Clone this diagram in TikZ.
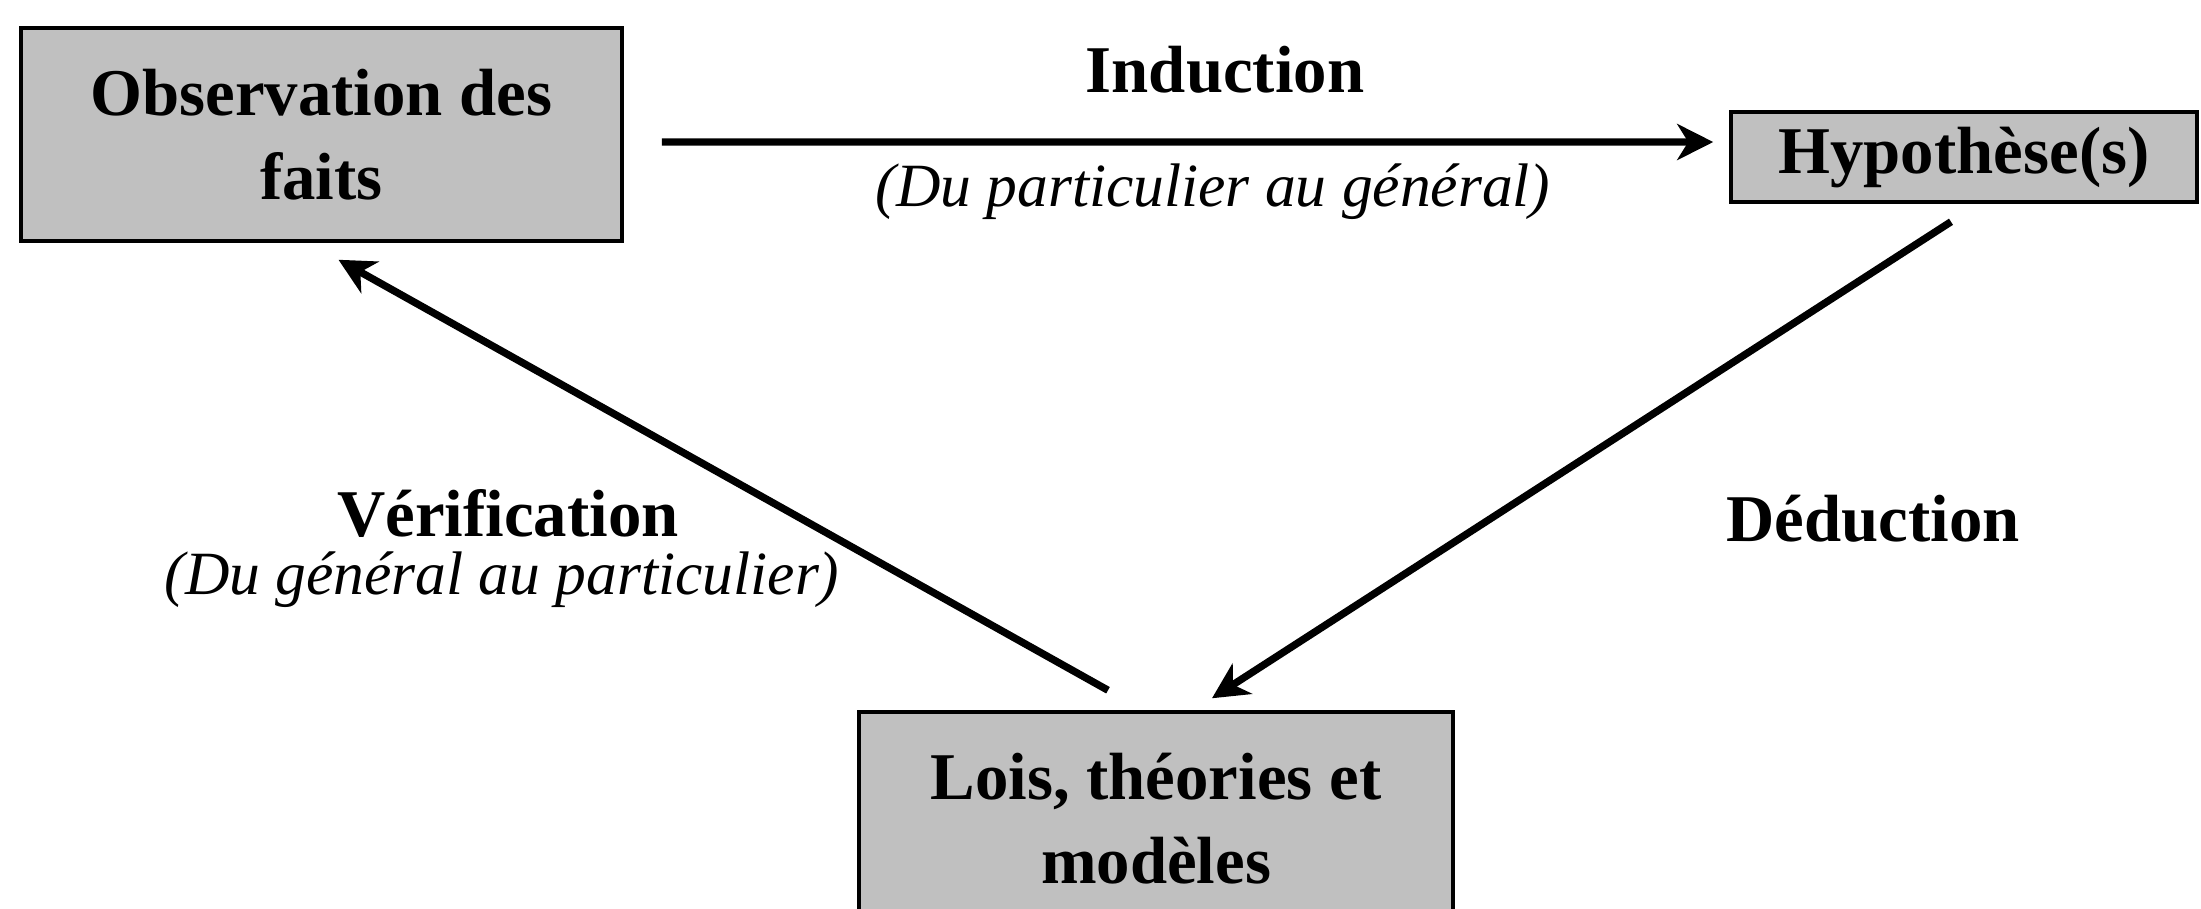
\documentclass[tikz,border=0pt]{standalone}
\usepackage{fontspec}
\setmainfont{Liberation Serif}
\usetikzlibrary{arrows.meta}
\definecolor{boxgray}{RGB}{192,192,192}

\begin{document}
\begin{tikzpicture}
  [x=1cm,y=1cm,every node/.style={align=center,inner sep=0pt}]
 \tikzset{BoxStyle/.style={rectangle,draw=black,line width=1pt,fill=boxgray,font=\fontsize{19}{24}\selectfont\bfseries}}
 \tikzset{TitleStyle/.style={font=\fontsize{19}{24}\selectfont\bfseries}}
 \tikzset{NoteStyle/.style={font=\fontsize{17.5}{21}\selectfont\itshape}}
 \tikzset{EdgeStyle/.style={-{Stealth[length=0.36cm,width=0.36cm,inset=0.11cm]},line width=2.1pt}}

  \useasboundingbox (0,0) rectangle (22.01,-9.08);

  % the three boxes
  \node[BoxStyle,minimum width=6.01cm,minimum height=2.13cm] (n1) at (3.215,-1.345) {Observation des\\faits};
  \node[BoxStyle,minimum width=4.66cm,minimum height=0.90cm] (n2) at (19.64,-1.57) {Hypothèse(s)};
  \node[BoxStyle,minimum width=5.94cm,minimum height=2.13cm] (n3) at (11.56,-8.185) {Lois, théories et\\modèles};

  % labels
  \node[TitleStyle] (n4) at (12.25,-0.70) {Induction};
  \node[NoteStyle] (n5) at (12.13,-1.92) {(Du particulier au général)};
  \node[TitleStyle] (n6) at (5.08,-5.13) {Vérification};
  \node[NoteStyle] (n7) at (5.02,-5.80) {(Du général au particulier)};
  \node[TitleStyle] (n8) at (18.73,-5.19) {Déduction};

  \draw[EdgeStyle,shorten <=0.38cm,shorten >=0.16cm] ([yshift=-0.075cm]n1.east) -- ([yshift=0.15cm]n2.west);
  \draw[EdgeStyle] ([xshift=-0.13cm,yshift=-0.18cm]n2.south) -- ([xshift=0.56cm,yshift=0.12cm]n3.north);
  \draw[EdgeStyle] ([xshift=-0.48cm,yshift=0.2cm]n3.north) -- ([xshift=0.17cm,yshift=-0.17cm]n1.south);

\end{tikzpicture}
\end{document}
